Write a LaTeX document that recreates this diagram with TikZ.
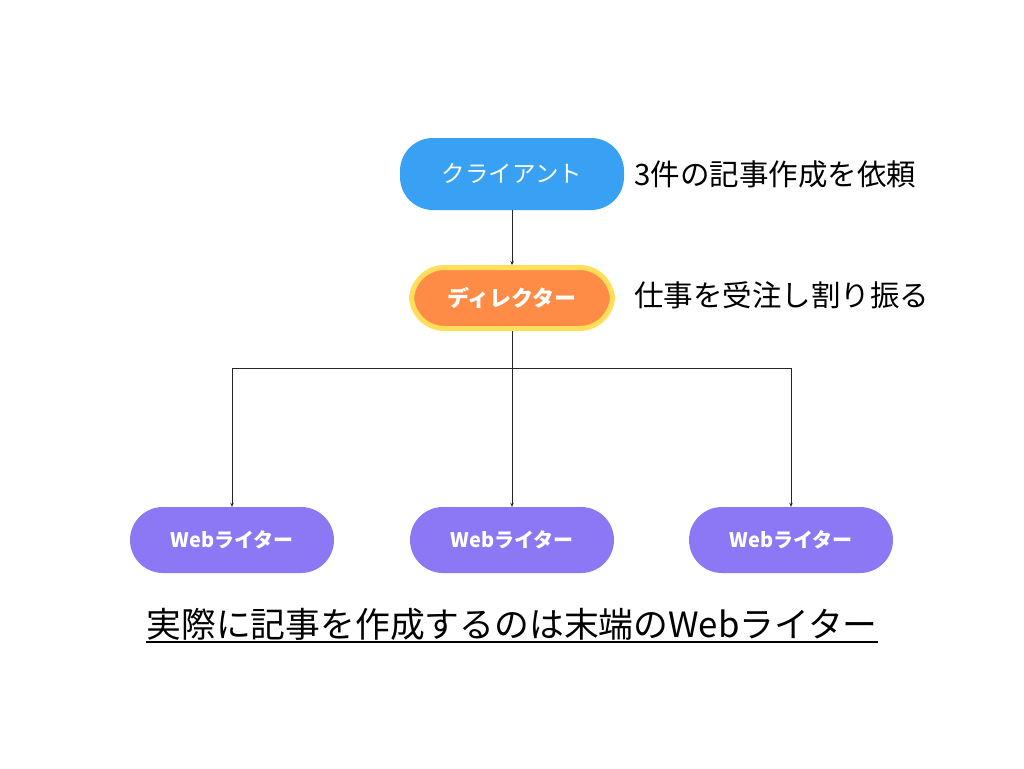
\documentclass[tikz,border=0pt]{standalone}
\usepackage{fontspec}
\setmainfont{Noto Sans CJK JP}
\usetikzlibrary{arrows.meta}
\definecolor{cblue}{HTML}{38A1F3}
\definecolor{corange}{HTML}{FF8C46}
\definecolor{cyellow}{HTML}{FFDE59}
\definecolor{cpurple}{HTML}{8C78F5}
\begin{document}
\begin{tikzpicture}[x=1pt,y=-1pt,
  pill/.style={rounded corners=33pt, inner sep=0pt, text=white, draw=none},
  conn/.style={line width=0.8pt, draw=black!85, -{Stealth[length=4pt,width=3.5pt]}},
  note/.style={inner sep=0pt, anchor=west, font=\fontsize{29.5}{32}\selectfont}
]
\useasboundingbox[fill=white] (0,0) rectangle (1024,768);
\node[pill, fill=cblue, minimum width=224pt, minimum height=72pt, font=\fontsize{23.5}{26}\selectfont] (client) at (512,174) {クライアント};
\node[pill, fill=corange, draw=cyellow, line width=5pt, minimum width=201pt, minimum height=61pt, font=\fontsize{22}{26}\selectfont\bfseries] (director) at (512,298) {ディレクター};
\node[note] (n1) at (634,174) {3件の記事作成を依頼};
\node[note] (n2) at (634,295) {仕事を受注し割り振る};
\foreach \n/\x in {w1/232, w2/512, w3/791}{
  \node[pill, fill=cpurple, minimum width=204pt, minimum height=66pt, font=\fontsize{20}{24}\selectfont\bfseries] (\n) at (\x,540) {Webライター};
}
\coordinate (hub) at (512,368);
\draw[conn] (client) -- (director.north);
\draw[line width=0.8pt, draw=black!85] (director.south) -- (hub);
\draw[conn] (hub) -| (w1.north);
\draw[conn] (hub) -- (w2.north);
\draw[conn] (hub) -| (w3.north);
\node[inner sep=0pt, font=\fontsize{34.8}{40}\selectfont] (summary) at (512,624) {実際に記事を作成するのは末端のWebライター};
\draw[line width=1.8pt] ([yshift=-5pt]summary.base west) -- ([yshift=-5pt]summary.base east);
\end{tikzpicture}
\end{document}
